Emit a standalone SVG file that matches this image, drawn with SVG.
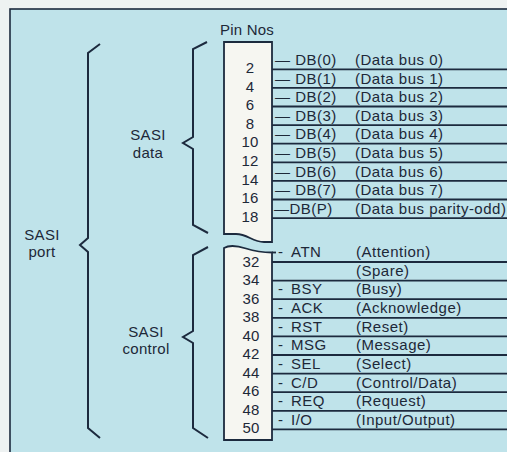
<svg xmlns="http://www.w3.org/2000/svg" width="507" height="452" viewBox="0 0 507 452">
<style>
text{font-family:"Liberation Sans",Arial,sans-serif;font-size:15px;fill:#1d2838;letter-spacing:0.5px}
.num{text-anchor:middle;letter-spacing:0.2px}
.lbl{text-anchor:middle;letter-spacing:0.3px}
.ln{stroke:#1c2a3e;stroke-width:1.8;fill:none}
.br{stroke:#1c2a3e;stroke-width:2;fill:none;stroke-linejoin:miter}
.box{fill:#f6f6f1;stroke:#1c2a3e;stroke-width:1.8}
</style>
<rect x="0" y="0" width="507" height="452" fill="#eef2f2"/>
<g id="frame"><rect x="10" y="9" width="520" height="470" fill="#bfe3ea" stroke="#1c2a3e" stroke-width="1.6"/></g>

<g id="braces">
<path id="brace-port" class="br" d="M100,44 L88,53 V238 L80,245 L88,252 V428 L100,438"/>
<path id="brace-data" class="br" d="M207,42 L193,49 V137 L183,143 L193,149 V225 L208,233"/>
<path id="brace-control" class="br" d="M208,247 L193,255 V331 L183,337 L193,343 V428 L208,438"/>
</g>

<g id="group-labels">
<g id="label-port"><text class="lbl" x="42" y="240">SASI</text><text class="lbl" x="42" y="257">port</text></g>
<g id="label-data"><text class="lbl" x="148" y="140">SASI</text><text class="lbl" x="148" y="158">data</text></g>
<g id="label-control"><text class="lbl" x="146" y="337">SASI</text><text class="lbl" x="146" y="354">control</text></g>
<g id="label-pins"><text x="220" y="35" style="letter-spacing:0.2px">Pin Nos</text></g>
</g>

<g id="connectors">
<line class="ln" x1="272" y1="69.3" x2="507" y2="69.3"/>
<line class="ln" x1="272" y1="87.9" x2="507" y2="87.9"/>
<line class="ln" x1="272" y1="106.5" x2="507" y2="106.5"/>
<line class="ln" x1="272" y1="125.1" x2="507" y2="125.1"/>
<line class="ln" x1="272" y1="143.7" x2="507" y2="143.7"/>
<line class="ln" x1="272" y1="162.3" x2="507" y2="162.3"/>
<line class="ln" x1="272" y1="180.9" x2="507" y2="180.9"/>
<line class="ln" x1="272" y1="199.5" x2="507" y2="199.5"/>
<line class="ln" x1="272" y1="218.1" x2="507" y2="218.1"/>
<line class="ln" x1="272" y1="252.5" x2="276" y2="252.5"/>
<line class="ln" x1="272" y1="262" x2="507" y2="262"/>
<line class="ln" x1="272" y1="280.6" x2="507" y2="280.6"/>
<line class="ln" x1="272" y1="299.2" x2="507" y2="299.2"/>
<line class="ln" x1="272" y1="317.8" x2="507" y2="317.8"/>
<line class="ln" x1="272" y1="336.4" x2="507" y2="336.4"/>
<line class="ln" x1="272" y1="355" x2="507" y2="355"/>
<line class="ln" x1="272" y1="373.6" x2="507" y2="373.6"/>
<line class="ln" x1="272" y1="392.2" x2="507" y2="392.2"/>
<line class="ln" x1="272" y1="410.8" x2="507" y2="410.8"/>
<line class="ln" x1="272" y1="429.4" x2="507" y2="429.4"/>
</g>

<g id="data-connector">
<path class="box" d="M224,42 H272 V242 H264 C252,242 248,234 236,234 H224 Z"/>
<text class="num" x="250" y="73">2</text>
<text class="num" x="250" y="91.6">4</text>
<text class="num" x="250" y="110.2">6</text>
<text class="num" x="250" y="128.8">8</text>
<text class="num" x="250" y="147.4">10</text>
<text class="num" x="250" y="166">12</text>
<text class="num" x="250" y="184.6">14</text>
<text class="num" x="250" y="203.2">16</text>
<text class="num" x="250" y="221.8">18</text>
</g>

<g id="control-connector">
<path class="box" d="M224,248 C229,245 235,245 246,248.5 C257,252 264,252.5 272,252.5 V440 H224 Z"/>
<text class="num" x="251" y="267">32</text>
<text class="num" x="251" y="285.4">34</text>
<text class="num" x="251" y="303.9">36</text>
<text class="num" x="251" y="322.3">38</text>
<text class="num" x="251" y="340.8">40</text>
<text class="num" x="251" y="359.2">42</text>
<text class="num" x="251" y="377.6">44</text>
<text class="num" x="251" y="396.1">46</text>
<text class="num" x="251" y="414.5">48</text>
<text class="num" x="251" y="433">50</text>
</g>

<g id="data-signals">
<g id="db0"><text x="275" y="65">— DB(0)</text><text x="355" y="65">(Data bus 0)</text></g>
<g id="db1"><text x="275" y="83.6">— DB(1)</text><text x="355" y="83.6">(Data bus 1)</text></g>
<g id="db2"><text x="275" y="102.2">— DB(2)</text><text x="355" y="102.2">(Data bus 2)</text></g>
<g id="db3"><text x="275" y="120.8">— DB(3)</text><text x="355" y="120.8">(Data bus 3)</text></g>
<g id="db4"><text x="275" y="139.4">— DB(4)</text><text x="355" y="139.4">(Data bus 4)</text></g>
<g id="db5"><text x="275" y="158">— DB(5)</text><text x="355" y="158">(Data bus 5)</text></g>
<g id="db6"><text x="275" y="176.6">— DB(6)</text><text x="355" y="176.6">(Data bus 6)</text></g>
<g id="db7"><text x="275" y="195.2">— DB(7)</text><text x="355" y="195.2">(Data bus 7)</text></g>
<g id="dbp"><text x="274" y="213.8">—DB(P)</text><text x="355" y="213.8">(Data bus parity-odd)</text></g>
</g>

<g id="control-signals">
<g id="atn"><text x="278" y="257">-</text><text x="291" y="257">ATN</text><text x="356" y="257">(Attention)</text></g>
<g id="spare"><text x="356" y="275.7">(Spare)</text></g>
<g id="bsy"><text x="278" y="294.3">-</text><text x="291" y="294.3">BSY</text><text x="356" y="294.3">(Busy)</text></g>
<g id="ack"><text x="278" y="313">-</text><text x="291" y="313">ACK</text><text x="356" y="313">(Acknowledge)</text></g>
<g id="rst"><text x="278" y="331.7">-</text><text x="291" y="331.7">RST</text><text x="356" y="331.7">(Reset)</text></g>
<g id="msg"><text x="278" y="350.3">-</text><text x="291" y="350.3">MSG</text><text x="356" y="350.3">(Message)</text></g>
<g id="sel"><text x="278" y="369">-</text><text x="291" y="369">SEL</text><text x="356" y="369">(Select)</text></g>
<g id="cd"><text x="278" y="387.7">-</text><text x="291" y="387.7">C/D</text><text x="356" y="387.7">(Control/Data)</text></g>
<g id="req"><text x="278" y="406.3">-</text><text x="291" y="406.3">REQ</text><text x="356" y="406.3">(Request)</text></g>
<g id="io"><text x="278" y="425">-</text><text x="291" y="425">I/O</text><text x="356" y="425">(Input/Output)</text></g>
</g>
</svg>
